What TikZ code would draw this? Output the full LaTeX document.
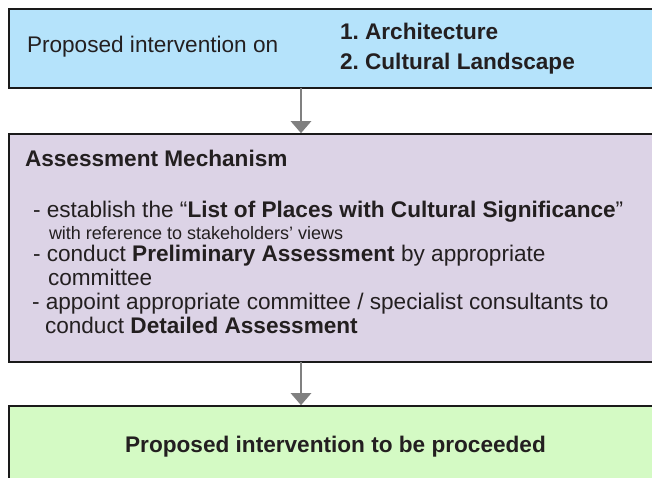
\documentclass[tikz,border=0pt]{standalone}
\usepackage{fontspec}
\setmainfont{Liberation Sans}
\usetikzlibrary{arrows.meta}
\frenchspacing

\definecolor{inkdark}{HTML}{231F20}
\definecolor{boxline}{HTML}{1A1A1A}
\definecolor{fillblue}{HTML}{B5E3FB}
\definecolor{fillpurple}{HTML}{DCD3E6}
\definecolor{fillgreen}{HTML}{D4FAC4}
\definecolor{arrowgray}{HTML}{808080}

\begin{document}
\begin{tikzpicture}[
  x=1pt, y=-1pt,
  panel/.style={draw=boxline, line width=1.6pt, rectangle, outer sep=0pt,
    inner sep=0pt, anchor=north west},
  txt/.style={anchor=base west, inner sep=0pt, outer sep=0pt, text=inkdark,
    font=\fontsize{22.6}{25}\selectfont},
  smalltxt/.style={txt, font=\fontsize{18}{20}\selectfont},
  flow/.style={draw=arrowgray, line width=2.6pt,
    -{Triangle[width=20pt, length=12pt]}, shorten >=0.8pt}
]
\useasboundingbox (0,0) rectangle (652,478);
\clip (0,0) rectangle (652,478);

% the three stages of the process
\node[panel, fill=fillblue, minimum width=720pt, minimum height=79pt]
  (proposal) at (9,9) {};
\node[panel, fill=fillpurple, minimum width=720pt, minimum height=228pt]
  (assess) at (9,134) {};
\node[panel, fill=fillgreen, minimum width=720pt, minimum height=120pt]
  (proceed) at (9,406) {};

% vertical line that carries both connectors
\coordinate (axis) at (301,0);
\draw[flow] (proposal.south -| axis) -- (assess.north -| axis);
\draw[flow] (assess.south -| axis) -- (proceed.north -| axis);

% first stage
\node[txt] (onlabel) at (27,53) {Proposed intervention on};
\node[txt] (itemA) at (340,40) {\textbf{1. Architecture}};
\node[txt] (itemB) at (340,70) {\textbf{2. Cultural Landscape}};

% assessment stage
\node[txt] (mechtitle) at (25,167) {\textbf{Assessment Mechanism}};
\node[txt] (lineA) at (33,217)
  {- establish the “\textbf{List of Places with Cultural Significance}”};
\node[smalltxt] (lineB) at (49,239) {with reference to stakeholders’ views};
\node[txt] (lineC) at (33,261)
  {- conduct \textbf{Preliminary Assessment} by appropriate};
\node[txt] (lineD) at (48,285) {committee};
\node[txt] (lineE) at (32,309)
  {- appoint appropriate committee / specialist consultants to};
\node[txt] (lineF) at (45,333) {conduct \textbf{Detailed Assessment}};

% outcome
\node[txt, anchor=base] (outcome) at (335.5,452)
  {\textbf{Proposed intervention to be proceeded}};
\end{tikzpicture}
\end{document}
